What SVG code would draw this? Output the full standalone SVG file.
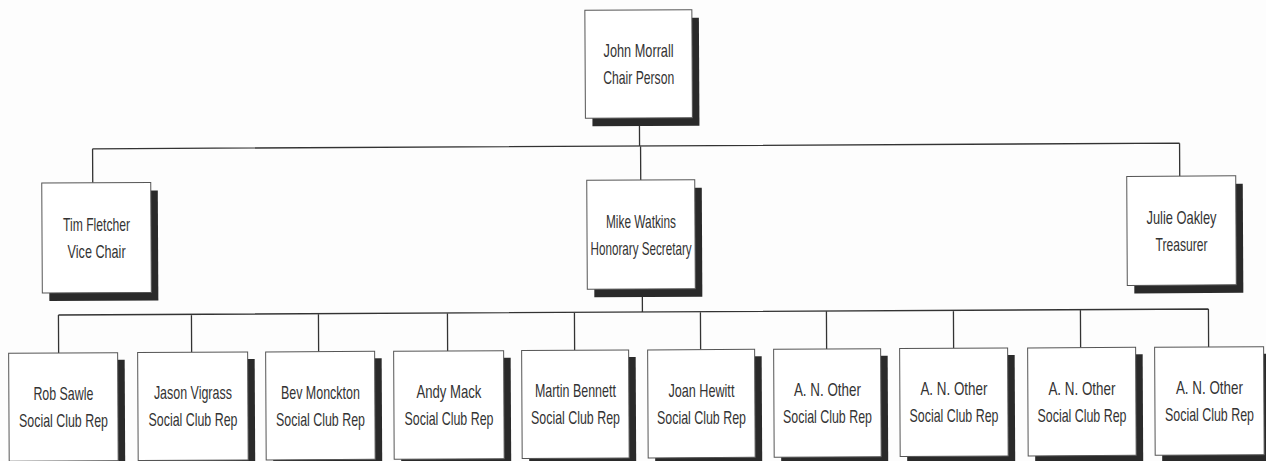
<svg xmlns="http://www.w3.org/2000/svg" width="1266" height="461" viewBox="0 0 1266 461">
<style>
.bg{fill:#fdfdfd}
.box{fill:#ffffff;stroke:#555555;stroke-width:1}
.shadow{fill:#2a2a2a}
.t{font-family:"Liberation Sans Narrow","Liberation Sans",Arial,sans-serif;font-size:19px;fill:#333333;text-anchor:middle}
.conn{stroke:#333333;stroke-width:1.3;fill:none}
</style>
<rect class="bg" x="0" y="0" width="1266" height="461"/>
<g id="connectors" transform="rotate(-0.3 633 230)">
<path class="conn" d="M640 118V146M93 146H1180M93 146V180M641 146V180M1180 146V179"/>
<path class="conn" d="M642 289V312M58 312H1208M58 312V350M191 312V350M318 312V350M447 312V350M574 312V350M700 312V350M826 312V350M953 312V350M1080 312V350M1208 312V350"/>
</g>
<g id="john-morrall"><g transform="rotate(-0.3 633 230)"><rect class="shadow" x="593" y="18" width="107" height="108"/><rect class="box" x="586" y="10" width="107" height="108"/></g><text class="t" x="638.6" y="57" textLength="70" lengthAdjust="spacingAndGlyphs">John Morrall</text><text class="t" x="638.7" y="84" textLength="71" lengthAdjust="spacingAndGlyphs">Chair Person</text></g>
<g id="tim-fletcher"><g transform="rotate(-0.3 633 230)"><rect class="shadow" x="49" y="188" width="109" height="110"/><rect class="box" x="42" y="180" width="109" height="110"/></g><text class="t" x="96.5" y="230.8" textLength="67" lengthAdjust="spacingAndGlyphs">Tim Fletcher</text><text class="t" x="96.6" y="257.8" textLength="58" lengthAdjust="spacingAndGlyphs">Vice Chair</text></g>
<g id="mike-watkins"><g transform="rotate(-0.3 633 230)"><rect class="shadow" x="594" y="188" width="108" height="109"/><rect class="box" x="587" y="180" width="108" height="109"/></g><text class="t" x="641" y="227.5" textLength="70" lengthAdjust="spacingAndGlyphs">Mike Watkins</text><text class="t" x="641.1" y="254.5" textLength="101" lengthAdjust="spacingAndGlyphs">Honorary Secretary</text></g>
<g id="julie-oakley"><g transform="rotate(-0.3 633 230)"><rect class="shadow" x="1134" y="187" width="109" height="109"/><rect class="box" x="1127" y="179" width="109" height="109"/></g><text class="t" x="1181.5" y="223.6" textLength="70" lengthAdjust="spacingAndGlyphs">Julie Oakley</text><text class="t" x="1181.6" y="250.6" textLength="52" lengthAdjust="spacingAndGlyphs">Treasurer</text></g>
<g id="rob-sawle"><g transform="rotate(-0.3 633 230)"><rect class="shadow" x="15" y="357" width="109" height="108"/><rect class="box" x="8" y="350" width="109" height="108"/></g><text class="t" x="63.4" y="400" textLength="60" lengthAdjust="spacingAndGlyphs">Rob Sawle</text><text class="t" x="63.5" y="427" textLength="89" lengthAdjust="spacingAndGlyphs">Social Club Rep</text></g>
<g id="jason-vigrass"><g transform="rotate(-0.3 633 230)"><rect class="shadow" x="144" y="357" width="110" height="108"/><rect class="box" x="137" y="350" width="110" height="108"/></g><text class="t" x="192.9" y="399.3" textLength="78" lengthAdjust="spacingAndGlyphs">Jason Vigrass</text><text class="t" x="193" y="426.3" textLength="89" lengthAdjust="spacingAndGlyphs">Social Club Rep</text></g>
<g id="bev-monckton"><g transform="rotate(-0.3 633 230)"><rect class="shadow" x="272" y="357" width="109" height="108"/><rect class="box" x="265" y="350" width="109" height="108"/></g><text class="t" x="320.4" y="398.6" textLength="79" lengthAdjust="spacingAndGlyphs">Bev Monckton</text><text class="t" x="320.5" y="425.6" textLength="89" lengthAdjust="spacingAndGlyphs">Social Club Rep</text></g>
<g id="andy-mack"><g transform="rotate(-0.3 633 230)"><rect class="shadow" x="400" y="357" width="110" height="108"/><rect class="box" x="393" y="350" width="110" height="108"/></g><text class="t" x="448.9" y="398" textLength="65" lengthAdjust="spacingAndGlyphs">Andy Mack</text><text class="t" x="449" y="425" textLength="89" lengthAdjust="spacingAndGlyphs">Social Club Rep</text></g>
<g id="martin-bennett"><g transform="rotate(-0.3 633 230)"><rect class="shadow" x="528" y="357" width="107" height="108"/><rect class="box" x="521" y="350" width="107" height="108"/></g><text class="t" x="575.4" y="397.3" textLength="81" lengthAdjust="spacingAndGlyphs">Martin Bennett</text><text class="t" x="575.5" y="424.3" textLength="89" lengthAdjust="spacingAndGlyphs">Social Club Rep</text></g>
<g id="joan-hewitt"><g transform="rotate(-0.3 633 230)"><rect class="shadow" x="654" y="357" width="107" height="108"/><rect class="box" x="647" y="350" width="107" height="108"/></g><text class="t" x="701.4" y="396.6" textLength="66" lengthAdjust="spacingAndGlyphs">Joan Hewitt</text><text class="t" x="701.5" y="423.6" textLength="89" lengthAdjust="spacingAndGlyphs">Social Club Rep</text></g>
<g id="an-other-1"><g transform="rotate(-0.3 633 230)"><rect class="shadow" x="780" y="357" width="107" height="108"/><rect class="box" x="773" y="350" width="107" height="108"/></g><text class="t" x="827.4" y="396" textLength="67" lengthAdjust="spacingAndGlyphs">A. N. Other</text><text class="t" x="827.5" y="423" textLength="89" lengthAdjust="spacingAndGlyphs">Social Club Rep</text></g>
<g id="an-other-2"><g transform="rotate(-0.3 633 230)"><rect class="shadow" x="906" y="357" width="108" height="108"/><rect class="box" x="899" y="350" width="108" height="108"/></g><text class="t" x="953.9" y="395.3" textLength="67" lengthAdjust="spacingAndGlyphs">A. N. Other</text><text class="t" x="954" y="422.3" textLength="89" lengthAdjust="spacingAndGlyphs">Social Club Rep</text></g>
<g id="an-other-3"><g transform="rotate(-0.3 633 230)"><rect class="shadow" x="1034" y="357" width="108" height="108"/><rect class="box" x="1027" y="350" width="108" height="108"/></g><text class="t" x="1081.9" y="394.7" textLength="67" lengthAdjust="spacingAndGlyphs">A. N. Other</text><text class="t" x="1082" y="421.7" textLength="89" lengthAdjust="spacingAndGlyphs">Social Club Rep</text></g>
<g id="an-other-4"><g transform="rotate(-0.3 633 230)"><rect class="shadow" x="1161" y="357" width="109" height="108"/><rect class="box" x="1154" y="350" width="109" height="108"/></g><text class="t" x="1209.4" y="394" textLength="67" lengthAdjust="spacingAndGlyphs">A. N. Other</text><text class="t" x="1209.5" y="421" textLength="89" lengthAdjust="spacingAndGlyphs">Social Club Rep</text></g>
</svg>
